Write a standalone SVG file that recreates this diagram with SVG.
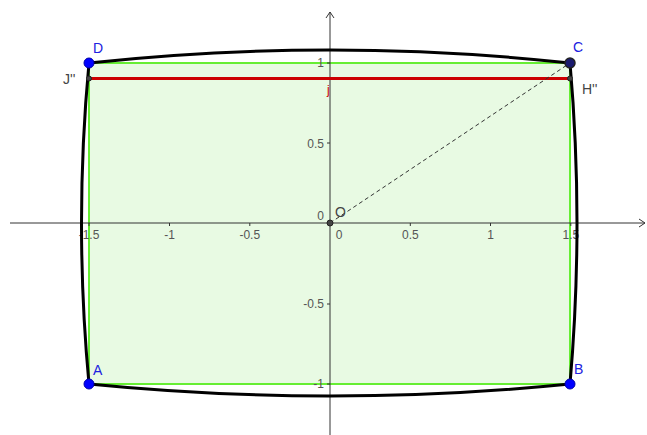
<svg xmlns="http://www.w3.org/2000/svg" width="647" height="435" viewBox="0 0 647 435">
<defs>
<style>
.ax{stroke:#333;stroke-width:1;fill:none}
.tk{stroke:#333;stroke-width:1}
.tl{font-family:"Liberation Sans",Arial,sans-serif;font-size:12px;fill:#555}
.pl{font-family:"Liberation Sans",Arial,sans-serif;font-size:14px;fill:#2020e0}
.gl{font-family:"Liberation Sans",Arial,sans-serif;font-size:14px;fill:#444}
.pt{fill:#0000ff;stroke:#0000aa;stroke-width:1}
.sp{fill:#444;stroke:#222;stroke-width:1}
</style>
</defs>
<rect width="647" height="435" fill="#ffffff"/>
<g id="rect-ABCD">
<rect x="89" y="63" width="481" height="321" fill="#e8fae3" stroke="#66ee33" stroke-width="2"/>
</g>
<g id="axes">
<line class="ax" x1="10" y1="223" x2="645" y2="223"/>
<path class="ax" d="M639,219 L645,223 L639,227"/>
<line class="ax" x1="330" y1="435" x2="330" y2="12"/>
<path class="ax" d="M326,18 L330,12 L334,18"/>
<g class="tk">
<line x1="89" y1="223" x2="89" y2="226"/><line x1="169.5" y1="223" x2="169.5" y2="226"/><line x1="249.8" y1="223" x2="249.8" y2="226"/>
<line x1="410.3" y1="223" x2="410.3" y2="226"/><line x1="490.5" y1="223" x2="490.5" y2="226"/><line x1="570.8" y1="223" x2="570.8" y2="226"/>
<line x1="327" y1="63" x2="330" y2="63"/><line x1="327" y1="143" x2="330" y2="143"/><line x1="327" y1="304" x2="330" y2="304"/><line x1="327" y1="384" x2="330" y2="384"/>
</g>
<text class="tl" x="89" y="239" text-anchor="middle">-1.5</text>
<text class="tl" x="169.5" y="239" text-anchor="middle">-1</text>
<text class="tl" x="249.8" y="239" text-anchor="middle">-0.5</text>
<text class="tl" x="339" y="239" text-anchor="middle">0</text>
<text class="tl" x="410.3" y="239" text-anchor="middle">0.5</text>
<text class="tl" x="490.5" y="239" text-anchor="middle">1</text>
<text class="tl" x="570.8" y="239" text-anchor="middle">1.5</text>
<text class="tl" x="324" y="67" text-anchor="end">1</text>
<text class="tl" x="324" y="148" text-anchor="end">0.5</text>
<text class="tl" x="324" y="220" text-anchor="end">0</text>
<text class="tl" x="324" y="308" text-anchor="end">-0.5</text>
<text class="tl" x="324" y="388" text-anchor="end">-1</text>
</g>
<g id="connectors">
<path d="M89,63 Q330,37 570,63 Q584,223 570,384 Q330,408 89,384 Q74,223 89,63 Z" fill="none" stroke="#000" stroke-width="3" stroke-linejoin="round"/>
<line x1="89" y1="78.5" x2="570" y2="78.5" stroke="#cc0000" stroke-width="3"/>
<line x1="330" y1="223" x2="570" y2="63" stroke="#333" stroke-width="1" stroke-dasharray="4,3"/>
</g>
<g id="j-label"><text x="327" y="94" font-family="Liberation Sans,Arial,sans-serif" font-size="12" fill="#cc0000">j</text></g>
<g id="O"><circle class="sp" cx="330" cy="223" r="3"/><text class="gl" x="335" y="217">O</text></g>
<g id="J2"><circle class="sp" cx="89" cy="78.5" r="2.5"/><text class="gl" x="63" y="84">J''</text></g>
<g id="H2"><circle class="sp" cx="570" cy="78.5" r="2.5"/><text class="gl" x="582" y="94">H''</text></g>
<g id="D"><circle class="pt" cx="89" cy="63" r="5"/><text class="pl" x="93" y="53">D</text></g>
<g id="C"><circle cx="570" cy="63" r="5" fill="#1a1a6e" stroke="#222" stroke-width="1.5"/><text class="pl" x="573" y="52">C</text></g>
<g id="A"><circle class="pt" cx="89" cy="384" r="5"/><text class="pl" x="93" y="375">A</text></g>
<g id="B"><circle class="pt" cx="570" cy="384" r="5"/><text class="pl" x="574" y="374">B</text></g>
</svg>
